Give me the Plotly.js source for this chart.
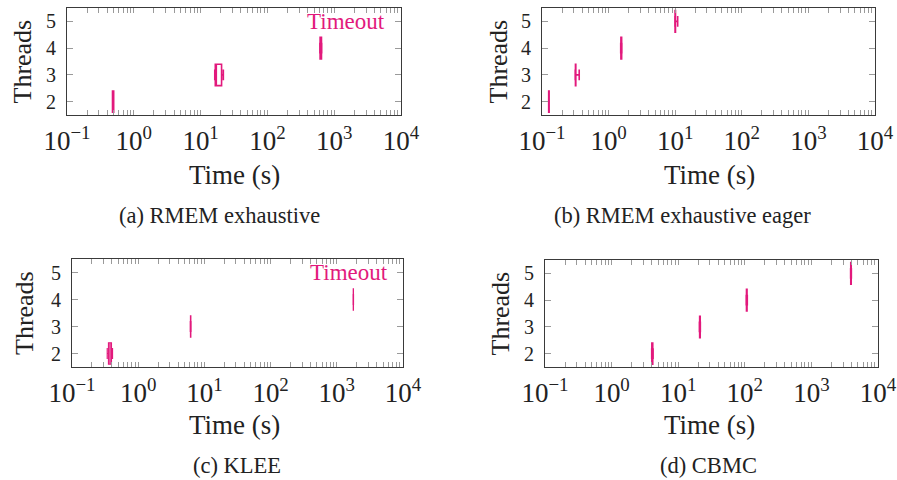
<!DOCTYPE html>
<html>
<head>
<meta charset="utf-8">
<script src="https://cdn.plot.ly/plotly-3.0.1.min.js"></script>
<style>html,body{margin:0;padding:0;background:#fff;}#chart{width:897px;height:480px;}</style>
</head>
<body>
<div id="chart"></div>
<script>
// ---- data ----
var threads = [2, 3, 4, 5];
var panelTitles = ['(a) RMEM exhaustive', '(b) RMEM exhaustive eager', '(c) KLEE', '(d) CBMC'];
var timeTickVals = [0.1, 1, 10, 100, 1000, 10000];
var timeTickText = ['10<sup>−1</sup>', '10<sup>0</sup>', '10<sup>1</sup>', '10<sup>2</sup>', '10<sup>3</sup>', '10<sup>4</sup>'];
var threadTicks = [2, 3, 4, 5];

// box statistics per thread count (null = timeout)
var rmemExhLow  = [0.48, 16.3, 610, null];
var rmemExhQ1   = [0.48, 16.6, 615, null];
var rmemExhMed  = [0.49, 17.0, 630, null];
var rmemExhQ3   = [0.50, 20.6, 645, null];
var rmemExhHigh = [0.50, 21.9, 650, null];

var rmemEagerLow  = [0.126, 0.315, 1.52, 9.9];
var rmemEagerQ1   = [0.126, 0.318, 1.53, 9.95];
var rmemEagerMed  = [0.127, 0.320, 1.55, 10.0];
var rmemEagerQ3   = [0.128, 0.322, 1.57, 10.1];
var rmemEagerHigh = [0.128, 0.362, 1.58, 10.9];

var kleeLow  = [0.34, 6.1, 1760, null];
var kleeQ1   = [0.355, 6.15, 1770, null];
var kleeMed  = [0.375, 6.2, 1775, null];
var kleeQ3   = [0.395, 6.25, 1785, null];
var kleeHigh = [0.41, 6.3, 1790, null];

var cbmcLow  = [4.0, 20.8, 105, 3880];
var cbmcQ1   = [4.02, 21.0, 106, 3900];
var cbmcMed  = [4.08, 21.2, 107, 3935];
var cbmcQ3   = [4.15, 21.4, 108, 3960];
var cbmcHigh = [4.2, 21.5, 109, 3980];

var timeoutThreadA = 5;
var timeoutThreadC = 5;

// log-axis tick positions: labelled decades plus unlabelled 2..9 minors
var allTickVals = [], allTickText = [];
for (var k = 0; k < timeTickVals.length; k++) {
  allTickVals.push(timeTickVals[k]); allTickText.push(timeTickText[k]);
  if (k < timeTickVals.length - 1) {
    for (var m = 2; m <= 9; m++) { allTickVals.push(m * timeTickVals[k]); allTickText.push(''); }
  }
}

// ---- styling ----
var pink = '#e2197c';
var serif = 'Liberation Serif, DejaVu Serif, serif';
var W = 897, H = 480;
function px(x) { return x / W; }
function py(y) { return 1 - y / H; }

function boxTrace(low, q1, med, q3, high, xa, ya, fill, lw) {
  var y = [], a = [], b = [], c = [], d = [], e = [];
  for (var i = 0; i < threads.length; i++) {
    if (med[i] === null) continue;
    y.push(threads[i]); a.push(low[i]); b.push(q1[i]); c.push(med[i]); d.push(q3[i]); e.push(high[i]);
  }
  return {
    type: 'box', orientation: 'h', y: y,
    lowerfence: a, q1: b, median: c, q3: d, upperfence: e,
    width: 0.8, whiskerwidth: 0.5,
    line: {color: pink, width: lw},
    fillcolor: fill,
    xaxis: xa, yaxis: ya, hoverinfo: 'x'
  };
}

var data = [
  boxTrace(rmemExhLow, rmemExhQ1, rmemExhMed, rmemExhQ3, rmemExhHigh, 'x', 'y', 'rgba(255,255,255,0)', 1.6),
  boxTrace(rmemEagerLow, rmemEagerQ1, rmemEagerMed, rmemEagerQ3, rmemEagerHigh, 'x2', 'y2', 'rgba(255,255,255,0)', 1.6),
  boxTrace(kleeLow, kleeQ1, kleeMed, kleeQ3, kleeHigh, 'x3', 'y3', 'rgba(226,25,124,0.45)', 1.1),
  boxTrace(cbmcLow, cbmcQ1, cbmcMed, cbmcQ3, cbmcHigh, 'x4', 'y4', 'rgba(226,25,124,0.5)', 1.6)
];

function xAxis(dom, anchor) {
  return {
    type: 'log', domain: dom, anchor: anchor, range: [-1, 4],
    tickmode: 'array', tickvals: allTickVals, ticktext: allTickText,
    ticks: 'inside', ticklen: 5, tickwidth: 1, tickcolor: '#9a9a9a',
    showline: true, linecolor: '#3a3a3a', linewidth: 1, mirror: 'ticks',
    showgrid: false, zeroline: false,
    tickfont: {family: serif, size: 27, color: '#222'},
    ticklabelstandoff: 2
  };
}
function yAxis(dom, anchor) {
  return {
    domain: dom, anchor: anchor, range: [1.5, 5.5],
    tickmode: 'array', tickvals: threadTicks,
    ticks: 'inside', ticklen: 6, tickwidth: 1, tickcolor: '#9a9a9a',
    showline: true, linecolor: '#3a3a3a', linewidth: 1, mirror: 'ticks',
    showgrid: false, zeroline: false,
    tickfont: {family: serif, size: 20, color: '#222'},
    ticklabelstandoff: 6
  };
}

var annots = [];
function ann(text, x, y, size, angle) {
  annots.push({text: text, xref: 'paper', yref: 'paper', x: px(x), y: py(y),
    xanchor: 'center', yanchor: 'middle', showarrow: false, textangle: angle || 0,
    font: {family: serif, size: size, color: '#222'}});
}
// axis titles
ann('Threads', 22, 61.5, 26, -90);
ann('Threads', 498, 61.5, 26, -90);
ann('Threads', 24, 313, 26, -90);
ann('Threads', 500, 313.5, 26, -90);
ann('Time (s)', 234, 175, 27);
ann('Time (s)', 709, 175, 27);
ann('Time (s)', 234, 425, 27);
ann('Time (s)', 709, 425, 27);
// captions
ann(panelTitles[0], 219, 215, 22.5);
ann(panelTitles[1], 682, 215, 22.5);
ann(panelTitles[2], 237, 465, 22.5);
ann(panelTitles[3], 708, 465, 22.5);
// timeouts
annots.push({text: 'Timeout', xref: 'x', yref: 'y', x: 4, y: timeoutThreadA, xanchor: 'right', yanchor: 'middle',
  xshift: -14, showarrow: false, font: {family: serif, size: 23, color: pink}});
annots.push({text: 'Timeout', xref: 'x3', yref: 'y3', x: 4, y: timeoutThreadC, xanchor: 'right', yanchor: 'middle',
  xshift: -13, showarrow: false, font: {family: serif, size: 23, color: pink}});

var layout = {
  width: W, height: H,
  margin: {l: 0, r: 0, t: 0, b: 0},
  paper_bgcolor: '#fff', plot_bgcolor: '#fff',
  showlegend: false,
  xaxis: xAxis([px(67), px(401)], 'y'),
  yaxis: yAxis([py(115), py(8)], 'x'),
  xaxis2: xAxis([px(542), px(875)], 'y2'),
  yaxis2: yAxis([py(115), py(8)], 'x2'),
  xaxis3: xAxis([px(72), px(403)], 'y3'),
  yaxis3: yAxis([py(367), py(259)], 'x3'),
  xaxis4: xAxis([px(545), px(878)], 'y4'),
  yaxis4: yAxis([py(367), py(260)], 'x4'),
  annotations: annots
};

Plotly.newPlot('chart', data, layout, {staticPlot: true});
</script>
</body>
</html>
